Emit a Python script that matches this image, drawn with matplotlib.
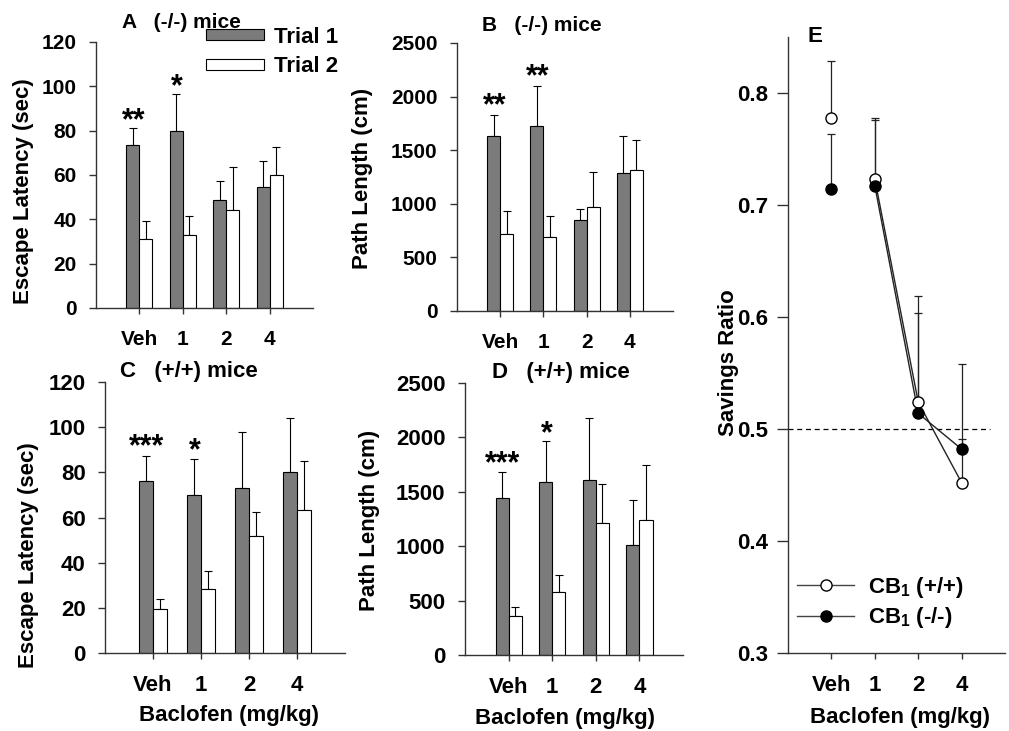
import numpy as np
import matplotlib
matplotlib.use("Agg")
import matplotlib.pyplot as plt

plt.rcParams['font.family'] = ['Liberation Sans', 'DejaVu Sans']
plt.rcParams['font.weight'] = 'bold'
plt.rcParams['axes.labelweight'] = 'bold'
plt.rcParams['mathtext.fontset'] = 'custom'
plt.rcParams['mathtext.rm'] = 'Liberation Sans:bold'
plt.rcParams['mathtext.bf'] = 'Liberation Sans:bold'
plt.rcParams['mathtext.default'] = 'bf'

# ---------------- data ----------------
doses = ["Veh", "1", "2", "4"]

# Panel A: (-/-) mice escape latency (sec)
a_t1 = [73.3, 80.0, 48.6, 54.5]
a_t1_err = [8.1, 16.4, 8.6, 11.7]
a_t2 = [31.1, 32.9, 44.3, 60.1]
a_t2_err = [8.2, 8.4, 19.2, 12.3]

# Panel B: (-/-) mice path length (cm)
b_t1 = [1634, 1722, 850, 1286]
b_t1_err = [197, 379, 103, 342]
b_t2 = [719, 691, 968, 1314]
b_t2_err = [215, 196, 324, 283]

# Panel C: (+/+) mice escape latency (sec)
c_t1 = [76.3, 70.1, 73.2, 80.0]
c_t1_err = [10.9, 15.9, 24.7, 24.1]
c_t2 = [19.4, 28.3, 51.7, 63.5]
c_t2_err = [4.6, 8.1, 10.7, 21.6]

# Panel D: (+/+) mice path length (cm)
d_t1 = [1446, 1593, 1612, 1011]
d_t1_err = [233, 371, 563, 414]
d_t2 = [362, 579, 1216, 1244]
d_t2_err = [79, 159, 359, 499]

# Panel E: savings ratio
e_wt = [0.778, 0.723, 0.524, 0.452]
e_wt_err = [0.051, 0.055, 0.095, 0.106]
e_ko = [0.714, 0.717, 0.514, 0.482]
e_ko_err = [0.049, 0.059, 0.090, 0.009]

# significance stars: (group index, y baseline, text)
a_stars = [(0, 80.7, "**"), (1, 96.0, "*")]
b_stars = [(0, 1837, "**"), (1, 2108, "**")]
c_stars = [(0, 87.7, "***"), (1, 85.9, "*")]
d_stars = [(0, 1682, "***"), (1, 1958, "*")]

# ---------------- styling ----------------
GRAY = "#7b7b7b"
AXC = "#333333"
LAB_FS = 16
W = 0.3

fig = plt.figure(figsize=(10.09, 7.31), dpi=100)


def style_axes(ax, xlim, ylim, yticks, tfs):
    for s in ("top", "right"):
        ax.spines[s].set_visible(False)
    for s in ("left", "bottom"):
        ax.spines[s].set_color(AXC)
        ax.spines[s].set_linewidth(1.0)
    ax.set_xlim(*xlim)
    ax.set_ylim(*ylim)
    ax.set_yticks(yticks)
    ax.set_xticks(np.arange(len(doses)))
    ax.set_xticklabels(doses)
    ax.tick_params(axis='y', direction='out', length=5, width=1, color=AXC,
                   labelsize=tfs, pad=9)
    ax.tick_params(axis='x', direction='out', length=4, width=1, color=AXC,
                   labelsize=tfs, pad=12)
    for lab in ax.get_xticklabels() + ax.get_yticklabels():
        lab.set_fontweight('bold')


def bar_panel(rect, t1, t1e, t2, t2e, ylim, yticks, ylabel, ylab_xy, title,
              title_xy, stars, tfs, xlabel=None, xlab_xy=None):
    ax = fig.add_axes(rect)
    x = np.arange(len(doses))
    z = np.zeros(len(doses))
    b1 = ax.bar(x - W / 2, t1, W, color=GRAY, edgecolor='black', linewidth=0.8,
                label="Trial 1", zorder=2)
    ax.errorbar(x - W / 2, t1, yerr=[z, t1e], fmt='none', ecolor='black',
                elinewidth=0.8, capsize=3, capthick=0.8, zorder=1)
    b2 = ax.bar(x + W / 2, t2, W, color='white', edgecolor='black', linewidth=0.8,
                label="Trial 2", zorder=2)
    ax.errorbar(x + W / 2, t2, yerr=[z, t2e], fmt='none', ecolor='black',
                elinewidth=0.8, capsize=3, capthick=0.8, zorder=1)
    style_axes(ax, (-1, 4), ylim, yticks, tfs)
    ax.set_ylabel(ylabel, fontsize=LAB_FS, fontweight='bold')
    ax.yaxis.label.set_va('center')
    ax.yaxis.set_label_coords(*ylab_xy)
    if xlabel:
        ax.set_xlabel(xlabel, fontsize=LAB_FS, fontweight='bold')
        ax.xaxis.label.set_va('center')
        ax.xaxis.set_label_coords(*xlab_xy)
    ax.text(title_xy[0], title_xy[1], title, transform=ax.transAxes,
            fontsize=tfs, fontweight='bold', ha='left', va='center')
    for gi, yv, s in stars:
        ax.text(gi - W / 2 + 0.02, yv, s, fontsize=22, fontweight='bold',
                ha='center', va='baseline')
    return ax, b1, b2


axA, b1, b2 = bar_panel([0.0951, 0.5787, 0.2151, 0.3639], a_t1, a_t1_err, a_t2,
                        a_t2_err, (0, 120), [0, 20, 40, 60, 80, 100, 120],
                        "Escape Latency (sec)", (-0.336, 0.44),
                        "A   (-/-) mice", (0.12, 1.075), a_stars, 15)
axA.legend(handles=[b1, b2], labels=["Trial 1", "Trial 2"], loc='upper left',
           bbox_to_anchor=(0.507, 1.058), frameon=False, fontsize=16,
           handlelength=2.6, handleheight=0.4, handletextpad=0.45,
           labelspacing=0.4, borderpad=0, borderaxespad=0)

bar_panel([0.4529, 0.5746, 0.2141, 0.3666], b_t1, b_t1_err, b_t2, b_t2_err,
          (0, 2500), [0, 500, 1000, 1500, 2000, 2500], "Path Length (cm)",
          (-0.437, 0.496), "B   (-/-) mice", (0.116, 1.067), b_stars, 15)

bar_panel([0.1041, 0.1067, 0.2379, 0.3707], c_t1, c_t1_err, c_t2, c_t2_err,
          (0, 120), [0, 20, 40, 60, 80, 100, 120], "Escape Latency (sec)",
          (-0.32, 0.362), "C   (+/+) mice", (0.0625, 1.037), c_stars, 16,
          "Baclofen (mg/kg)", (0.517, -0.229))

bar_panel([0.4609, 0.1040, 0.2161, 0.3721], d_t1, d_t1_err, d_t2, d_t2_err,
          (0, 2500), [0, 500, 1000, 1500, 2000, 2500], "Path Length (cm)",
          (-0.436, 0.496), "D   (+/+) mice", (0.124, 1.037), d_stars, 16,
          "Baclofen (mg/kg)", (0.46, -0.232))

# ---------------- Panel E ----------------
axE = fig.add_axes([0.7810, 0.1067, 0.2151, 0.8427])
x = np.arange(len(doses))
z = np.zeros(len(doses))
axE.axhline(0.5, xmin=0, xmax=0.93, color='black', linestyle='--',
            linewidth=0.9, dashes=(4, 3), zorder=1)
axE.errorbar(x, e_wt, yerr=[z, e_wt_err], fmt='none', ecolor='#222222',
             elinewidth=0.9, capsize=3, capthick=0.9, zorder=2)
axE.errorbar(x, e_ko, yerr=[z, e_ko_err], fmt='none', ecolor='#222222',
             elinewidth=0.9, capsize=3, capthick=0.9, zorder=2)
axE.plot(x[1:], e_wt[1:], color='#222222', linewidth=1.0, zorder=3)
axE.plot(x[1:], e_ko[1:], color='#222222', linewidth=1.0, zorder=3)
axE.plot(x, e_wt, linestyle='none', marker='o', markersize=8,
         markerfacecolor='white', markeredgecolor='black', markeredgewidth=1.0,
         zorder=4)
axE.plot(x, e_ko, linestyle='none', marker='o', markersize=8,
         markerfacecolor='black', markeredgecolor='black', zorder=4)
h_wt, = axE.plot([], [], color='#444444', linewidth=1.0, marker='o',
                 markersize=8, markerfacecolor='white', markeredgecolor='black')
h_ko, = axE.plot([], [], color='#444444', linewidth=1.0, marker='o',
                 markersize=8, markerfacecolor='black', markeredgecolor='black')
style_axes(axE, (-1, 4), (0.3, 0.85), [0.3, 0.4, 0.5, 0.6, 0.7, 0.8], 16)
axE.yaxis.set_major_formatter(matplotlib.ticker.FormatStrFormatter('%.1f'))
axE.tick_params(axis='y', length=8, pad=6)
axE.set_ylabel("Savings Ratio", fontsize=LAB_FS, fontweight='bold')
axE.yaxis.label.set_va('center')
axE.yaxis.set_label_coords(-0.276, 0.472)
axE.set_xlabel("Baclofen (mg/kg)", fontsize=LAB_FS, fontweight='bold')
axE.xaxis.label.set_va('center')
axE.xaxis.set_label_coords(0.516, -0.1055)
axE.text(0.092, 1.0, "E", transform=axE.transAxes, fontsize=16,
         fontweight='bold', ha='left', va='center')
axE.legend(handles=[h_wt, h_ko],
           labels=[r"CB$_{1}$ (+/+)", r"CB$_{1}$ (-/-)"],
           loc='upper left', bbox_to_anchor=(0.04, 0.127), frameon=False,
           fontsize=16, handlelength=2.6, handletextpad=0.6,
           labelspacing=0.25, borderpad=0, borderaxespad=0)

fig.savefig("out.png", dpi=100)
